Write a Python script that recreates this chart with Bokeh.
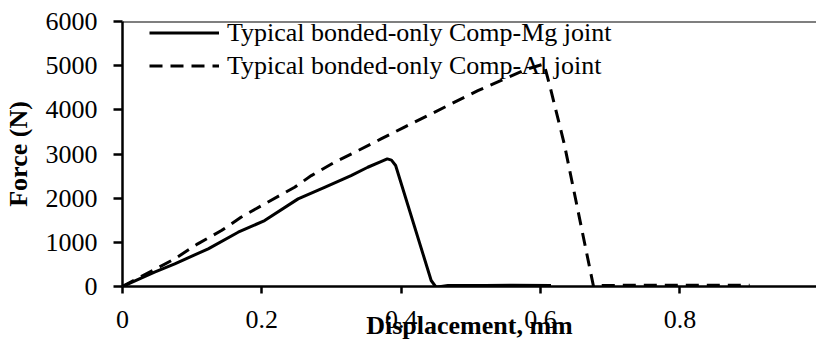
from bokeh.plotting import figure
from bokeh.models import Range1d, FixedTicker, Span, Legend, LegendItem, CustomJSTickFormatter
from bokeh.embed import file_html
from bokeh.resources import INLINE

# Typical bonded-only Comp-Mg joint (displacement mm, force N)
mg_x = [0, 0.046, 0.075, 0.123, 0.166, 0.204, 0.252, 0.290, 0.328, 0.352, 0.370, 0.380,
        0.386, 0.392, 0.443, 0.450, 0.467, 0.52, 0.56, 0.615]
mg_f = [0, 324, 514, 853, 1229, 1493, 1984, 2247, 2511, 2700, 2820, 2889,
        2860, 2740, 136, -15, 23, 25, 30, 25]

# Typical bonded-only Comp-Al joint
al_x = [0, 0.075, 0.108, 0.142, 0.170, 0.204, 0.247, 0.271, 0.304, 0.338, 0.371, 0.404,
        0.443, 0.481, 0.510, 0.548, 0.581, 0.605, 0.615, 0.634, 0.676, 0.69, 0.90]
al_f = [0, 627, 966, 1267, 1568, 1871, 2247, 2511, 2812, 3077, 3341, 3604,
        3907, 4208, 4434, 4699, 4925, 5038, 4434, 3228, 0, 25, 30]

series_names = ["Typical bonded-only Comp-Mg joint", "Typical bonded-only Comp-Al joint"]

x_ticks = [0, 0.2, 0.4, 0.6, 0.8, 1.0]
x_tick_labels = ["0", "0.2", "0.4", "0.6", "0.8", "1"]
y_ticks = [0, 1000, 2000, 3000, 4000, 5000, 6000]
y_tick_labels = ["0", "1000", "2000", "3000", "4000", "5000", "6000"]
x_title = "Displacement, mm"
y_title = "Force (N)"

FONT = "Liberation Serif"
FS = "26px"

LABEL_JS = """
let best = 0, bd = 1e9;
for (let i = 0; i < tvals.length; i++) {
  const d = Math.abs(tvals[i] - tick);
  if (d < bd) { bd = d; best = i; }
}
return tlabels[best];
"""

XMAX = 0.996
p = figure(width=816, height=347, output_backend="svg", toolbar_location=None,
           x_range=Range1d(0, XMAX), y_range=Range1d(0, 6000),
           min_border_left=121, min_border_right=0, min_border_top=21, min_border_bottom=61)
p.outline_line_color = None
p.xgrid.visible = False
p.ygrid.visible = False
p.background_fill_color = "white"
p.border_fill_color = "white"

r_mg = p.line(mg_x, mg_f, line_color="black", line_width=3, line_join="round")
r_al = p.line(al_x, al_f, line_color="black", line_width=3, line_dash="13 8")

for ax in (p.xaxis[0], p.yaxis[0]):
    ax.axis_line_color = "black"
    ax.axis_line_width = 2.5
    ax.major_tick_line_color = "black"
    ax.major_tick_line_width = 2.5
    ax.major_tick_in = 0
    ax.minor_tick_line_color = None
    ax.major_label_text_font = FONT
    ax.major_label_text_font_size = FS
    ax.major_label_text_font_style = "normal"
    ax.major_label_text_color = "black"
    ax.axis_label_text_font = FONT
    ax.axis_label_text_font_size = FS
    ax.axis_label_text_font_style = "bold"
    ax.axis_label_text_color = "black"

p.xaxis[0].ticker = FixedTicker(ticks=x_ticks)
p.xaxis[0].formatter = CustomJSTickFormatter(args=dict(tvals=x_ticks, tlabels=x_tick_labels), code=LABEL_JS)
p.xaxis[0].major_tick_out = 7
p.xaxis[0].major_label_standoff = 17
p.xaxis[0].axis_label = x_title
p.xaxis[0].axis_label_standoff = -20

p.yaxis[0].ticker = FixedTicker(ticks=y_ticks)
p.yaxis[0].formatter = CustomJSTickFormatter(args=dict(tvals=y_ticks, tlabels=y_tick_labels), code=LABEL_JS)
p.yaxis[0].major_tick_out = 9
p.yaxis[0].major_label_standoff = 16
p.yaxis[0].axis_label = y_title
p.yaxis[0].axis_label_standoff = 10

p.add_layout(Span(location=6000, dimension="width", line_color="black", line_width=2))

legend = Legend(items=[LegendItem(label=series_names[0], renderers=[r_mg]),
                       LegendItem(label=series_names[1], renderers=[r_al])],
                location=(27, 204))
legend.border_line_color = None
legend.background_fill_alpha = 0
legend.glyph_width = 70
legend.glyph_height = 33
legend.label_height = 33
legend.label_standoff = 8
legend.padding = 0
legend.margin = 0
legend.spacing = 0
legend.label_text_font = FONT
legend.label_text_font_size = FS
legend.label_text_color = "black"
p.add_layout(legend)

open("out.html", "w").write(file_html(p, INLINE))
